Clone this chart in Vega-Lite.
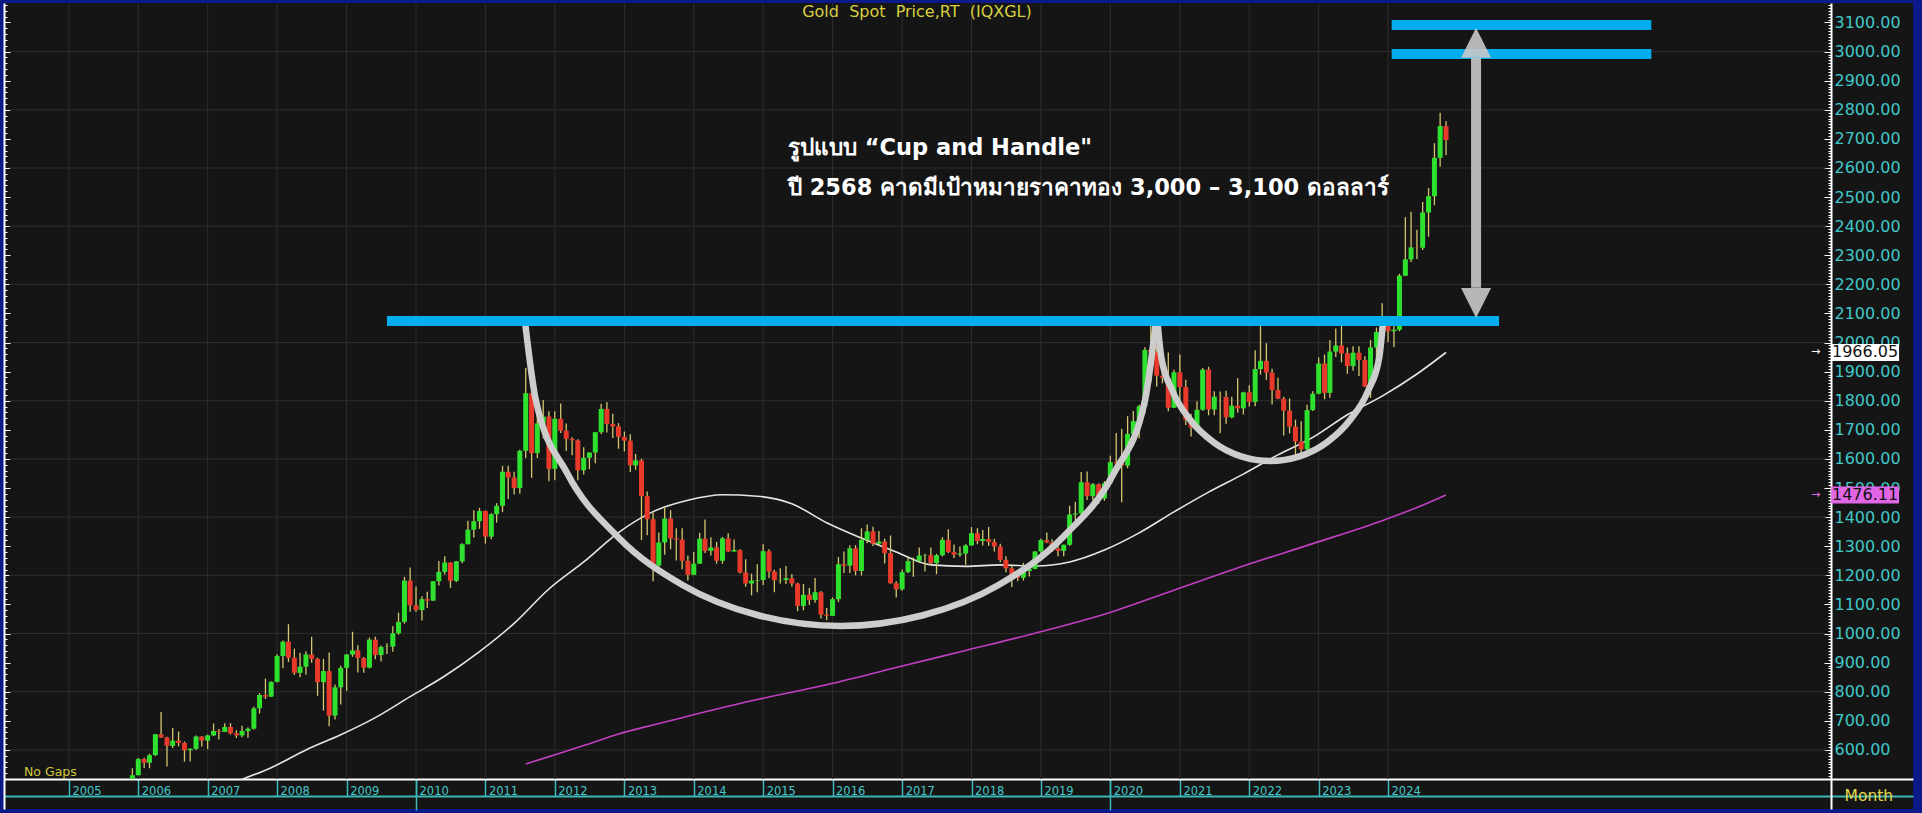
{
"$schema":"https://vega.github.io/schema/vega-lite/v6.json",
"width":1909,"height":806,
"autosize":{"type":"none"},
"padding":{"left":4,"top":3,"right":9,"bottom":4},
"background":"#0b1a88",
"config":{"view":{"fill":"#151515","stroke":null},"font":"DejaVu Sans"},
"resolve":{"axis":{"x":"independent","y":"independent"}},
"datasets":{
"candles":[
{"d":"2005-12-01","o":500,"h":537,"l":500,"c":513},
{"d":"2006-01-01","o":513,"h":572,"l":513,"c":569},{"d":"2006-02-01","o":569,"h":573,"l":538,"c":556},{"d":"2006-03-01","o":556,"h":587,"l":537,"c":582},{"d":"2006-04-01","o":582,"h":654,"l":580,"c":654},{"d":"2006-05-01","o":654,"h":730,"l":641,"c":643},{"d":"2006-06-01","o":643,"h":645,"l":543,"c":614},{"d":"2006-07-01","o":614,"h":675,"l":607,"c":632},{"d":"2006-08-01","o":632,"h":663,"l":612,"c":624},{"d":"2006-09-01","o":624,"h":629,"l":560,"c":599},{"d":"2006-10-01","o":599,"h":606,"l":560,"c":604},{"d":"2006-11-01","o":604,"h":650,"l":600,"c":646},{"d":"2006-12-01","o":646,"h":648,"l":612,"c":632},
{"d":"2007-01-01","o":632,"h":652,"l":603,"c":650},{"d":"2007-02-01","o":650,"h":691,"l":648,"c":665},{"d":"2007-03-01","o":665,"h":672,"l":636,"c":662},{"d":"2007-04-01","o":662,"h":692,"l":662,"c":679},{"d":"2007-05-01","o":679,"h":692,"l":653,"c":657},{"d":"2007-06-01","o":657,"h":668,"l":641,"c":650},{"d":"2007-07-01","o":650,"h":683,"l":644,"c":665},{"d":"2007-08-01","o":665,"h":677,"l":642,"c":673},{"d":"2007-09-01","o":673,"h":748,"l":670,"c":743},{"d":"2007-10-01","o":743,"h":795,"l":725,"c":789},{"d":"2007-11-01","o":789,"h":845,"l":775,"c":783},{"d":"2007-12-01","o":783,"h":836,"l":782,"c":834},
{"d":"2008-01-01","o":834,"h":929,"l":832,"c":923},{"d":"2008-02-01","o":923,"h":976,"l":881,"c":972},{"d":"2008-03-01","o":972,"h":1032,"l":902,"c":917},{"d":"2008-04-01","o":917,"h":948,"l":858,"c":865},{"d":"2008-05-01","o":865,"h":934,"l":850,"c":886},{"d":"2008-06-01","o":886,"h":939,"l":858,"c":928},{"d":"2008-07-01","o":928,"h":989,"l":900,"c":913},{"d":"2008-08-01","o":913,"h":917,"l":786,"c":833},{"d":"2008-09-01","o":833,"h":913,"l":735,"c":871},{"d":"2008-10-01","o":871,"h":935,"l":681,"c":718},{"d":"2008-11-01","o":718,"h":825,"l":705,"c":815},{"d":"2008-12-01","o":815,"h":889,"l":756,"c":882},
{"d":"2009-01-01","o":882,"h":929,"l":803,"c":928},{"d":"2009-02-01","o":928,"h":1006,"l":920,"c":942},{"d":"2009-03-01","o":942,"h":960,"l":866,"c":916},{"d":"2009-04-01","o":916,"h":919,"l":865,"c":883},{"d":"2009-05-01","o":883,"h":986,"l":880,"c":979},{"d":"2009-06-01","o":979,"h":989,"l":912,"c":926},{"d":"2009-07-01","o":926,"h":959,"l":904,"c":954},{"d":"2009-08-01","o":954,"h":967,"l":930,"c":955},{"d":"2009-09-01","o":955,"h":1025,"l":937,"c":1001},{"d":"2009-10-01","o":1001,"h":1072,"l":996,"c":1040},{"d":"2009-11-01","o":1040,"h":1195,"l":1034,"c":1182},{"d":"2009-12-01","o":1182,"h":1227,"l":1075,"c":1097},
{"d":"2010-01-01","o":1097,"h":1162,"l":1075,"c":1081},{"d":"2010-02-01","o":1081,"h":1128,"l":1045,"c":1118},{"d":"2010-03-01","o":1118,"h":1144,"l":1088,"c":1113},{"d":"2010-04-01","o":1113,"h":1180,"l":1112,"c":1180},{"d":"2010-05-01","o":1180,"h":1249,"l":1165,"c":1212},{"d":"2010-06-01","o":1212,"h":1266,"l":1203,"c":1244},{"d":"2010-07-01","o":1244,"h":1245,"l":1157,"c":1181},{"d":"2010-08-01","o":1181,"h":1249,"l":1177,"c":1248},{"d":"2010-09-01","o":1248,"h":1310,"l":1242,"c":1307},{"d":"2010-10-01","o":1307,"h":1388,"l":1307,"c":1357},{"d":"2010-11-01","o":1357,"h":1424,"l":1330,"c":1386},{"d":"2010-12-01","o":1386,"h":1432,"l":1360,"c":1421},
{"d":"2011-01-01","o":1421,"h":1423,"l":1309,"c":1333},{"d":"2011-02-01","o":1333,"h":1413,"l":1324,"c":1410},{"d":"2011-03-01","o":1410,"h":1448,"l":1381,"c":1439},{"d":"2011-04-01","o":1439,"h":1576,"l":1417,"c":1556},{"d":"2011-05-01","o":1556,"h":1577,"l":1462,"c":1536},{"d":"2011-06-01","o":1536,"h":1556,"l":1478,"c":1500},{"d":"2011-07-01","o":1500,"h":1632,"l":1480,"c":1628},{"d":"2011-08-01","o":1628,"h":1913,"l":1603,"c":1826},{"d":"2011-09-01","o":1826,"h":1921,"l":1535,"c":1620},{"d":"2011-10-01","o":1620,"h":1762,"l":1603,"c":1722},{"d":"2011-11-01","o":1722,"h":1803,"l":1670,"c":1746},{"d":"2011-12-01","o":1746,"h":1764,"l":1523,"c":1566},
{"d":"2012-01-01","o":1566,"h":1764,"l":1527,"c":1738},{"d":"2012-02-01","o":1738,"h":1791,"l":1689,"c":1697},{"d":"2012-03-01","o":1697,"h":1722,"l":1627,"c":1669},{"d":"2012-04-01","o":1669,"h":1675,"l":1613,"c":1664},{"d":"2012-05-01","o":1664,"h":1668,"l":1527,"c":1561},{"d":"2012-06-01","o":1561,"h":1640,"l":1547,"c":1604},{"d":"2012-07-01","o":1604,"h":1623,"l":1565,"c":1622},{"d":"2012-08-01","o":1622,"h":1692,"l":1585,"c":1692},{"d":"2012-09-01","o":1692,"h":1790,"l":1686,"c":1772},{"d":"2012-10-01","o":1772,"h":1796,"l":1691,"c":1720},{"d":"2012-11-01","o":1720,"h":1755,"l":1672,"c":1712},{"d":"2012-12-01","o":1712,"h":1723,"l":1635,"c":1676},
{"d":"2013-01-01","o":1676,"h":1694,"l":1626,"c":1663},{"d":"2013-02-01","o":1663,"h":1685,"l":1555,"c":1578},{"d":"2013-03-01","o":1578,"h":1617,"l":1563,"c":1595},{"d":"2013-04-01","o":1595,"h":1601,"l":1321,"c":1472},{"d":"2013-05-01","o":1472,"h":1488,"l":1338,"c":1393},{"d":"2013-06-01","o":1393,"h":1417,"l":1180,"c":1234},{"d":"2013-07-01","o":1234,"h":1347,"l":1208,"c":1313},{"d":"2013-08-01","o":1313,"h":1434,"l":1271,"c":1395},{"d":"2013-09-01","o":1395,"h":1424,"l":1290,"c":1327},{"d":"2013-10-01","o":1327,"h":1362,"l":1251,"c":1323},{"d":"2013-11-01","o":1323,"h":1362,"l":1221,"c":1250},{"d":"2013-12-01","o":1250,"h":1268,"l":1182,"c":1202},
{"d":"2014-01-01","o":1202,"h":1280,"l":1200,"c":1240},{"d":"2014-02-01","o":1240,"h":1346,"l":1240,"c":1326},{"d":"2014-03-01","o":1326,"h":1392,"l":1277,"c":1284},{"d":"2014-04-01","o":1284,"h":1331,"l":1268,"c":1296},{"d":"2014-05-01","o":1296,"h":1315,"l":1240,"c":1250},{"d":"2014-06-01","o":1250,"h":1332,"l":1240,"c":1327},{"d":"2014-07-01","o":1327,"h":1345,"l":1280,"c":1282},{"d":"2014-08-01","o":1282,"h":1323,"l":1281,"c":1287},{"d":"2014-09-01","o":1287,"h":1290,"l":1206,"c":1210},{"d":"2014-10-01","o":1210,"h":1255,"l":1161,"c":1172},{"d":"2014-11-01","o":1172,"h":1206,"l":1131,"c":1182},{"d":"2014-12-01","o":1182,"h":1238,"l":1142,"c":1184},
{"d":"2015-01-01","o":1184,"h":1307,"l":1167,"c":1283},{"d":"2015-02-01","o":1283,"h":1290,"l":1190,"c":1213},{"d":"2015-03-01","o":1213,"h":1219,"l":1142,"c":1183},{"d":"2015-04-01","o":1183,"h":1224,"l":1172,"c":1184},{"d":"2015-05-01","o":1184,"h":1232,"l":1170,"c":1190},{"d":"2015-06-01","o":1190,"h":1205,"l":1162,"c":1172},{"d":"2015-07-01","o":1172,"h":1175,"l":1077,"c":1095},{"d":"2015-08-01","o":1095,"h":1170,"l":1080,"c":1133},{"d":"2015-09-01","o":1133,"h":1157,"l":1098,"c":1115},{"d":"2015-10-01","o":1115,"h":1191,"l":1106,"c":1142},{"d":"2015-11-01","o":1142,"h":1146,"l":1052,"c":1065},{"d":"2015-12-01","o":1065,"h":1088,"l":1046,"c":1061},
{"d":"2016-01-01","o":1061,"h":1124,"l":1061,"c":1118},{"d":"2016-02-01","o":1118,"h":1263,"l":1108,"c":1238},{"d":"2016-03-01","o":1238,"h":1282,"l":1208,"c":1233},{"d":"2016-04-01","o":1233,"h":1303,"l":1208,"c":1293},{"d":"2016-05-01","o":1293,"h":1304,"l":1200,"c":1215},{"d":"2016-06-01","o":1215,"h":1362,"l":1200,"c":1322},{"d":"2016-07-01","o":1322,"h":1375,"l":1310,"c":1351},{"d":"2016-08-01","o":1351,"h":1367,"l":1301,"c":1309},{"d":"2016-09-01","o":1309,"h":1352,"l":1302,"c":1316},{"d":"2016-10-01","o":1316,"h":1326,"l":1241,"c":1276},{"d":"2016-11-01","o":1276,"h":1337,"l":1171,"c":1173},{"d":"2016-12-01","o":1173,"h":1180,"l":1124,"c":1152},
{"d":"2017-01-01","o":1152,"h":1220,"l":1147,"c":1211},{"d":"2017-02-01","o":1211,"h":1264,"l":1208,"c":1249},{"d":"2017-03-01","o":1249,"h":1261,"l":1195,"c":1250},{"d":"2017-04-01","o":1250,"h":1296,"l":1244,"c":1268},{"d":"2017-05-01","o":1268,"h":1274,"l":1214,"c":1269},{"d":"2017-06-01","o":1269,"h":1296,"l":1236,"c":1242},{"d":"2017-07-01","o":1242,"h":1274,"l":1204,"c":1269},{"d":"2017-08-01","o":1269,"h":1331,"l":1265,"c":1322},{"d":"2017-09-01","o":1322,"h":1358,"l":1277,"c":1280},{"d":"2017-10-01","o":1280,"h":1306,"l":1260,"c":1271},{"d":"2017-11-01","o":1271,"h":1299,"l":1264,"c":1275},{"d":"2017-12-01","o":1275,"h":1307,"l":1236,"c":1303},
{"d":"2018-01-01","o":1303,"h":1366,"l":1302,"c":1345},{"d":"2018-02-01","o":1345,"h":1362,"l":1307,"c":1318},{"d":"2018-03-01","o":1318,"h":1356,"l":1303,"c":1325},{"d":"2018-04-01","o":1325,"h":1366,"l":1301,"c":1315},{"d":"2018-05-01","o":1315,"h":1326,"l":1282,"c":1299},{"d":"2018-06-01","o":1299,"h":1309,"l":1245,"c":1253},{"d":"2018-07-01","o":1253,"h":1266,"l":1211,"c":1224},{"d":"2018-08-01","o":1224,"h":1236,"l":1160,"c":1201},{"d":"2018-09-01","o":1201,"h":1214,"l":1180,"c":1192},{"d":"2018-10-01","o":1192,"h":1243,"l":1182,"c":1215},{"d":"2018-11-01","o":1215,"h":1237,"l":1196,"c":1222},{"d":"2018-12-01","o":1222,"h":1284,"l":1221,"c":1282},
{"d":"2019-01-01","o":1282,"h":1326,"l":1276,"c":1321},{"d":"2019-02-01","o":1321,"h":1347,"l":1310,"c":1313},{"d":"2019-03-01","o":1313,"h":1324,"l":1280,"c":1292},{"d":"2019-04-01","o":1292,"h":1310,"l":1266,"c":1284},{"d":"2019-05-01","o":1284,"h":1306,"l":1266,"c":1305},{"d":"2019-06-01","o":1305,"h":1439,"l":1301,"c":1409},{"d":"2019-07-01","o":1409,"h":1453,"l":1381,"c":1413},{"d":"2019-08-01","o":1413,"h":1555,"l":1400,"c":1520},{"d":"2019-09-01","o":1520,"h":1557,"l":1459,"c":1472},{"d":"2019-10-01","o":1472,"h":1517,"l":1458,"c":1513},{"d":"2019-11-01","o":1513,"h":1516,"l":1445,"c":1464},{"d":"2019-12-01","o":1464,"h":1524,"l":1456,"c":1517},
{"d":"2020-01-01","o":1517,"h":1611,"l":1517,"c":1589},{"d":"2020-02-01","o":1589,"h":1689,"l":1563,"c":1585},{"d":"2020-03-01","o":1585,"h":1704,"l":1451,"c":1577},{"d":"2020-04-01","o":1577,"h":1747,"l":1568,"c":1686},{"d":"2020-05-01","o":1686,"h":1765,"l":1670,"c":1730},{"d":"2020-06-01","o":1730,"h":1786,"l":1671,"c":1781},{"d":"2020-07-01","o":1781,"h":1984,"l":1757,"c":1975},{"d":"2020-08-01","o":1975,"h":2075,"l":1863,"c":1968},{"d":"2020-09-01","o":1968,"h":1992,"l":1849,"c":1886},{"d":"2020-10-01","o":1886,"h":1933,"l":1860,"c":1879},{"d":"2020-11-01","o":1879,"h":1966,"l":1764,"c":1776},{"d":"2020-12-01","o":1776,"h":1907,"l":1775,"c":1898},
{"d":"2021-01-01","o":1898,"h":1959,"l":1802,"c":1847},{"d":"2021-02-01","o":1847,"h":1872,"l":1717,"c":1734},{"d":"2021-03-01","o":1734,"h":1755,"l":1677,"c":1708},{"d":"2021-04-01","o":1708,"h":1798,"l":1705,"c":1769},{"d":"2021-05-01","o":1769,"h":1913,"l":1766,"c":1907},{"d":"2021-06-01","o":1907,"h":1917,"l":1750,"c":1770},{"d":"2021-07-01","o":1770,"h":1833,"l":1750,"c":1814},{"d":"2021-08-01","o":1814,"h":1832,"l":1688,"c":1813},{"d":"2021-09-01","o":1813,"h":1834,"l":1721,"c":1743},{"d":"2021-10-01","o":1743,"h":1814,"l":1740,"c":1783},{"d":"2021-11-01","o":1783,"h":1877,"l":1759,"c":1774},{"d":"2021-12-01","o":1774,"h":1831,"l":1753,"c":1829},
{"d":"2022-01-01","o":1829,"h":1853,"l":1780,"c":1796},{"d":"2022-02-01","o":1796,"h":1974,"l":1781,"c":1909},{"d":"2022-03-01","o":1909,"h":2070,"l":1890,"c":1937},{"d":"2022-04-01","o":1937,"h":1998,"l":1872,"c":1897},{"d":"2022-05-01","o":1897,"h":1910,"l":1787,"c":1837},{"d":"2022-06-01","o":1837,"h":1879,"l":1805,"c":1807},{"d":"2022-07-01","o":1807,"h":1814,"l":1681,"c":1766},{"d":"2022-08-01","o":1766,"h":1808,"l":1688,"c":1711},{"d":"2022-09-01","o":1711,"h":1735,"l":1615,"c":1660},{"d":"2022-10-01","o":1660,"h":1730,"l":1617,"c":1633},{"d":"2022-11-01","o":1633,"h":1786,"l":1617,"c":1768},{"d":"2022-12-01","o":1768,"h":1833,"l":1765,"c":1824},
{"d":"2023-01-01","o":1824,"h":1949,"l":1822,"c":1928},{"d":"2023-02-01","o":1928,"h":1959,"l":1805,"c":1827},{"d":"2023-03-01","o":1827,"h":2009,"l":1810,"c":1969},{"d":"2023-04-01","o":1969,"h":2048,"l":1950,"c":1990},{"d":"2023-05-01","o":1990,"h":2079,"l":1932,"c":1963},{"d":"2023-06-01","o":1963,"h":1983,"l":1893,"c":1919},{"d":"2023-07-01","o":1919,"h":1987,"l":1903,"c":1965},{"d":"2023-08-01","o":1965,"h":1987,"l":1885,"c":1940},{"d":"2023-09-01","o":1940,"h":1953,"l":1847,"c":1849},{"d":"2023-10-01","o":1849,"h":2009,"l":1810,"c":1983},{"d":"2023-11-01","o":1983,"h":2052,"l":1931,"c":2036},{"d":"2023-12-01","o":2036,"h":2135,"l":2016,"c":2063},
{"d":"2024-01-01","o":2063,"h":2088,"l":2002,"c":2039},{"d":"2024-02-01","o":2039,"h":2065,"l":1985,"c":2044},{"d":"2024-03-01","o":2044,"h":2236,"l":2039,"c":2230},{"d":"2024-04-01","o":2230,"h":2431,"l":2228,"c":2286},{"d":"2024-05-01","o":2286,"h":2450,"l":2277,"c":2327},{"d":"2024-06-01","o":2327,"h":2388,"l":2287,"c":2326},{"d":"2024-07-01","o":2326,"h":2483,"l":2318,"c":2447},{"d":"2024-08-01","o":2447,"h":2531,"l":2364,"c":2503},{"d":"2024-09-01","o":2503,"h":2685,"l":2472,"c":2635},{"d":"2024-10-01","o":2635,"h":2790,"l":2604,"c":2744},{"d":"2024-11-01","o":2744,"h":2761,"l":2645,"c":2696}
],
"ma":[
{"s":"ma50","d":"2007-07-01","v":499},{"s":"ma50","d":"2007-12-01","v":539},{"s":"ma50","d":"2008-06-01","v":600},{"s":"ma50","d":"2008-12-01","v":652},{"s":"ma50","d":"2009-06-01","v":711},{"s":"ma50","d":"2009-12-01","v":783},{"s":"ma50","d":"2010-06-01","v":854},{"s":"ma50","d":"2010-12-01","v":938},{"s":"ma50","d":"2011-06-01","v":1035},{"s":"ma50","d":"2011-12-01","v":1153},{"s":"ma50","d":"2012-06-01","v":1246},{"s":"ma50","d":"2012-12-01","v":1347},{"s":"ma50","d":"2013-06-01","v":1419},{"s":"ma50","d":"2013-12-01","v":1458},{"s":"ma50","d":"2014-06-01","v":1477},{"s":"ma50","d":"2014-12-01","v":1472},{"s":"ma50","d":"2015-06-01","v":1446},{"s":"ma50","d":"2015-12-01","v":1381},{"s":"ma50","d":"2016-06-01","v":1328},{"s":"ma50","d":"2016-12-01","v":1280},{"s":"ma50","d":"2017-06-01","v":1236},{"s":"ma50","d":"2017-12-01","v":1231},{"s":"ma50","d":"2018-06-01","v":1236},{"s":"ma50","d":"2018-12-01","v":1232},{"s":"ma50","d":"2019-06-01","v":1246},{"s":"ma50","d":"2019-12-01","v":1287},{"s":"ma50","d":"2020-06-01","v":1346},{"s":"ma50","d":"2020-12-01","v":1418},{"s":"ma50","d":"2021-06-01","v":1486},{"s":"ma50","d":"2021-12-01","v":1548},{"s":"ma50","d":"2022-06-01","v":1614},{"s":"ma50","d":"2022-12-01","v":1674},{"s":"ma50","d":"2023-06-01","v":1752},{"s":"ma50","d":"2023-12-01","v":1816},{"s":"ma50","d":"2024-06-01","v":1892},{"s":"ma50","d":"2024-11-01","v":1966.05},
{"s":"ma200","d":"2011-08-01","v":552},{"s":"ma200","d":"2011-12-01","v":577},{"s":"ma200","d":"2012-06-01","v":615},{"s":"ma200","d":"2012-12-01","v":655},{"s":"ma200","d":"2013-06-01","v":686},{"s":"ma200","d":"2013-12-01","v":716},{"s":"ma200","d":"2014-12-01","v":773},{"s":"ma200","d":"2015-12-01","v":824},{"s":"ma200","d":"2016-12-01","v":883},{"s":"ma200","d":"2017-12-01","v":942},{"s":"ma200","d":"2018-12-01","v":1001},{"s":"ma200","d":"2019-12-01","v":1066},{"s":"ma200","d":"2020-12-01","v":1149},{"s":"ma200","d":"2021-12-01","v":1232},{"s":"ma200","d":"2022-12-01","v":1309},{"s":"ma200","d":"2023-12-01","v":1388},{"s":"ma200","d":"2024-06-01","v":1433},{"s":"ma200","d":"2024-11-01","v":1476.11}
],
"arcs":[
{"g":"cup","d":"2011-07-28","p":2074},{"g":"cup","d":"2011-09-23","p":1803},{"g":"cup","d":"2012-03-07","p":1550},{"g":"cup","d":"2012-11-27","p":1333},{"g":"cup","d":"2013-11-05","p":1166},{"g":"cup","d":"2014-12-10","p":1062},{"g":"cup","d":"2016-02-13","p":1026},{"g":"cup","d":"2017-04-16","p":1062},{"g":"cup","d":"2018-05-21","p":1166},{"g":"cup","d":"2019-04-29","p":1333},{"g":"cup","d":"2020-01-19","p":1550},{"g":"cup","d":"2020-07-02","p":1803},{"g":"cup","d":"2020-08-28","p":2074},
{"g":"handle","d":"2020-09-05","p":2074},{"g":"handle","d":"2020-09-25","p":1950},{"g":"handle","d":"2020-11-23","p":1834},{"g":"handle","d":"2021-02-25","p":1734},{"g":"handle","d":"2021-06-28","p":1657},{"g":"handle","d":"2021-11-19","p":1609},{"g":"handle","d":"2022-04-21","p":1593},{"g":"handle","d":"2022-09-22","p":1609},{"g":"handle","d":"2023-02-13","p":1657},{"g":"handle","d":"2023-06-15","p":1734},{"g":"handle","d":"2023-09-18","p":1834},{"g":"handle","d":"2023-11-16","p":1950},{"g":"handle","d":"2023-12-06","p":2074}
],
"levels":[
{"a":"2009-08-01","b":"2025-08-07","p":2074},
{"a":"2024-01-20","b":"2027-10-17","p":3091},
{"a":"2024-01-20","b":"2027-10-17","p":2992}
],
"hgrid":[{"p":600},{"p":800},{"p":1000},{"p":1200},{"p":1400},{"p":1600},{"p":1800},{"p":2000},{"p":2200},{"p":2400},{"p":2600},{"p":2800},{"p":3000}],
"vgrid":[{"d":"2005-01-01"},{"d":"2006-01-01"},{"d":"2007-01-01"},{"d":"2008-01-01"},{"d":"2009-01-01"},{"d":"2010-01-01"},{"d":"2011-01-01"},{"d":"2012-01-01"},{"d":"2013-01-01"},{"d":"2014-01-01"},{"d":"2015-01-01"},{"d":"2016-01-01"},{"d":"2017-01-01"},{"d":"2018-01-01"},{"d":"2019-01-01"},{"d":"2020-01-01"},{"d":"2021-01-01"},{"d":"2022-01-01"},{"d":"2023-01-01"},{"d":"2024-01-01"}],
"lastma":[{"s":"ma50","v":1966.05,"t":"1966.05"},{"s":"ma200","v":1476.11,"t":"1476.11"}],
"arrow":[{"d":"2025-04-08","p1":2188,"p2":2978}],
"heads":[{"d":"2025-04-08","p":3030,"dir":"up"},{"d":"2025-04-08","p":2136,"dir":"down"}]
},
"layer":[
{"data":{"name":"hgrid"},"mark":{"type":"rule","color":"#2e2e2e","strokeWidth":1},
 "encoding":{
  "x":{"datum":{"year":2004,"month":2,"date":21,"utc":true},"type":"temporal","scale":{"type":"utc","domain":[{"year":2004,"month":2,"date":21,"utc":true},{"year":2031,"month":6,"date":28,"utc":true}],"nice":false},"axis":null},
  "x2":{"datum":{"year":2030,"month":4,"date":25,"utc":true}},
  "y":{"field":"p","type":"quantitative","scale":{"domain":[397,3167],"zero":false,"nice":false},"axis":null}}},
{"data":{"name":"vgrid"},"mark":{"type":"rule","color":"#2e2e2e","strokeWidth":1},
 "encoding":{
  "x":{"field":"d","type":"temporal","scale":{"type":"utc","domain":[{"year":2004,"month":2,"date":21,"utc":true},{"year":2031,"month":6,"date":28,"utc":true}],"nice":false},"axis":null},
  "y":{"datum":500,"type":"quantitative","scale":{"domain":[397,3167],"zero":false,"nice":false},"axis":null},
  "y2":{"datum":3167}}},
{"data":{"name":"ma"},"mark":{"type":"line","strokeWidth":1.6,"interpolate":"monotone"},
 "encoding":{
  "x":{"field":"d","type":"temporal","scale":{"type":"utc","domain":[{"year":2004,"month":2,"date":21,"utc":true},{"year":2031,"month":6,"date":28,"utc":true}],"nice":false},"axis":null},
  "y":{"field":"v","type":"quantitative","scale":{"domain":[397,3167],"zero":false,"nice":false},"axis":null},
  "color":{"field":"s","type":"nominal","scale":{"domain":["ma50","ma200"],"range":["#e6e6e6","#c23fc2"]},"legend":null}}},
{"data":{"name":"candles"},"mark":{"type":"rule","color":"#d4c66e","strokeWidth":1.3},
 "encoding":{
  "x":{"field":"d","type":"temporal","scale":{"type":"utc","domain":[{"year":2004,"month":2,"date":21,"utc":true},{"year":2031,"month":6,"date":28,"utc":true}],"nice":false},
   "axis":{"orient":"top","offset":-793,"title":null,"grid":false,
    "values":[{"year":2005,"month":1,"date":1,"utc":true},{"year":2006,"month":1,"date":1,"utc":true},{"year":2007,"month":1,"date":1,"utc":true},{"year":2008,"month":1,"date":1,"utc":true},{"year":2009,"month":1,"date":1,"utc":true},{"year":2010,"month":1,"date":1,"utc":true},{"year":2011,"month":1,"date":1,"utc":true},{"year":2012,"month":1,"date":1,"utc":true},{"year":2013,"month":1,"date":1,"utc":true},{"year":2014,"month":1,"date":1,"utc":true},{"year":2015,"month":1,"date":1,"utc":true},{"year":2016,"month":1,"date":1,"utc":true},{"year":2017,"month":1,"date":1,"utc":true},{"year":2018,"month":1,"date":1,"utc":true},{"year":2019,"month":1,"date":1,"utc":true},{"year":2020,"month":1,"date":1,"utc":true},{"year":2021,"month":1,"date":1,"utc":true},{"year":2022,"month":1,"date":1,"utc":true},{"year":2023,"month":1,"date":1,"utc":true},{"year":2024,"month":1,"date":1,"utc":true}],
    "format":"%Y","formatType":"utc",
    "domainColor":"#3cb8b8","domainWidth":2,"tickColor":"#3cb8b8","tickSize":17,"tickWidth":1.5,
    "labelColor":"#44c8c8","labelFont":"DejaVu Sans","labelFontSize":11.5,"labelAlign":"left","labelBaseline":"alphabetic","labelPadding":-15,"labelOffset":3,"labelOverlap":false,"labelFlush":false,"labelBound":false}},
  "y":{"field":"l","type":"quantitative","scale":{"domain":[397,3167],"zero":false,"nice":false},
   "axis":{"orient":"left","offset":-1827,"title":null,"grid":false,"tickCount":300,
    "labelExpr":"(datum.value % 100 === 0 && datum.value >= 600 && datum.value <= 3100) ? format(datum.value, '.2f') : ''",
    "domainColor":"#ffffff","domainWidth":2,"tickColor":"#ffffff","tickWidth":1,
    "tickSize":{"condition":{"test":"datum.value % 100 === 0","value":7},"value":3},
    "tickOpacity":{"condition":{"test":"datum.value >= 500","value":1},"value":0},
    "labelColor":"#40c8c8","labelFont":"DejaVu Sans","labelFontSize":16,"labelAlign":"left","labelBaseline":"middle","labelPadding":-10,"labelOverlap":false,"labelFlush":false,"labelBound":false}},
  "y2":{"field":"h"}}},
{"data":{"name":"candles"},"mark":{"type":"bar","width":5},
 "encoding":{
  "x":{"field":"d","type":"temporal","scale":{"type":"utc","domain":[{"year":2004,"month":2,"date":21,"utc":true},{"year":2031,"month":6,"date":28,"utc":true}],"nice":false},
   "axis":{"orient":"bottom","offset":-30,"title":null,"grid":false,"labels":false,
    "values":[{"year":2010,"month":1,"date":1,"utc":true},{"year":2020,"month":1,"date":1,"utc":true}],
    "domainColor":"#ffffff","domainWidth":2,"tickColor":"#3cb8b8","tickSize":31,"tickWidth":1.5}},
  "y":{"field":"o","type":"quantitative","scale":{"domain":[397,3167],"zero":false,"nice":false},
   "axis":{"orient":"right","offset":-1909,"title":null,"grid":false,"labels":false,"tickCount":140,
    "domainColor":"#ffffff","domainWidth":2,"tickColor":"#ffffff","tickWidth":1,
    "tickSize":{"condition":{"test":"datum.value % 100 === 0","value":6},"value":3},
    "tickOpacity":{"condition":{"test":"datum.value >= 500","value":1},"value":0}}},
  "y2":{"field":"c"},
  "color":{"condition":{"test":"datum.c >= datum.o","value":"#2fe12f"},"value":"#e8392a"}}},
{"data":{"name":"arcs"},"mark":{"type":"line","strokeWidth":6.5,"interpolate":"monotone","color":"#cdcdcd"},
 "encoding":{
  "x":{"field":"d","type":"temporal","scale":{"type":"utc","domain":[{"year":2004,"month":2,"date":21,"utc":true},{"year":2031,"month":6,"date":28,"utc":true}],"nice":false},"axis":null},
  "y":{"field":"p","type":"quantitative","scale":{"domain":[397,3167],"zero":false,"nice":false},"axis":null},
  "detail":{"field":"g"}}},
{"data":{"name":"levels"},"mark":{"type":"rule","strokeWidth":10,"color":"#00adef"},
 "encoding":{
  "x":{"field":"a","type":"temporal","scale":{"type":"utc","domain":[{"year":2004,"month":2,"date":21,"utc":true},{"year":2031,"month":6,"date":28,"utc":true}],"nice":false},"axis":null},
  "x2":{"field":"b"},
  "y":{"field":"p","type":"quantitative","scale":{"domain":[397,3167],"zero":false,"nice":false},"axis":null}}},
{"data":{"name":"arrow"},"mark":{"type":"rule","strokeWidth":10,"color":"#c8c8c8","opacity":0.9},
 "encoding":{
  "x":{"field":"d","type":"temporal","scale":{"type":"utc","domain":[{"year":2004,"month":2,"date":21,"utc":true},{"year":2031,"month":6,"date":28,"utc":true}],"nice":false},"axis":null},
  "y":{"field":"p1","type":"quantitative","scale":{"domain":[397,3167],"zero":false,"nice":false},"axis":null},
  "y2":{"field":"p2"}}},
{"data":{"name":"heads"},"mark":{"type":"point","filled":true,"size":900,"color":"#c8c8c8","opacity":0.9,"strokeWidth":0},
 "encoding":{
  "x":{"field":"d","type":"temporal","scale":{"type":"utc","domain":[{"year":2004,"month":2,"date":21,"utc":true},{"year":2031,"month":6,"date":28,"utc":true}],"nice":false},"axis":null},
  "y":{"field":"p","type":"quantitative","scale":{"domain":[397,3167],"zero":false,"nice":false},"axis":null},
  "shape":{"field":"dir","type":"nominal","scale":{"domain":["up","down"],"range":["M-1,1L0,-1L1,1Z","M-1,-1L0,1L1,-1Z"]},"legend":null}}},
{"data":{"values":[{}]},"mark":{"type":"text","color":"#d8d040","fontSize":16,"font":"DejaVu Sans","align":"center","baseline":"middle"},
 "encoding":{
  "x":{"datum":{"year":2017,"month":3,"date":20,"utc":true},"type":"temporal","axis":null},
  "y":{"datum":3136,"type":"quantitative","axis":null},
  "text":{"value":"Gold\u00a0 Spot\u00a0 Price,RT\u00a0 (IQXGL)"}}},
{"data":{"values":[{}]},"mark":{"type":"text","color":"#ffffff","fontSize":22.5,"fontWeight":"bold","font":"DejaVu Sans","align":"left","baseline":"alphabetic"},
 "encoding":{
  "x":{"datum":{"year":2015,"month":5,"date":11,"utc":true},"type":"temporal","axis":null},
  "y":{"datum":2645,"type":"quantitative","axis":null},
  "text":{"value":"รูปแบบ “Cup and Handle\""}}},
{"data":{"values":[{}]},"mark":{"type":"text","color":"#ffffff","fontSize":22.5,"fontWeight":"bold","font":"DejaVu Sans","align":"left","baseline":"alphabetic"},
 "encoding":{
  "x":{"datum":{"year":2015,"month":5,"date":11,"utc":true},"type":"temporal","axis":null},
  "y":{"datum":2507,"type":"quantitative","axis":null},
  "text":{"value":"ปี 2568 คาดมีเป้าหมายราคาทอง 3,000 – 3,100 ดอลลาร์"}}},
{"data":{"values":[{}]},"mark":{"type":"text","color":"#d0c83c","fontSize":12.5,"font":"DejaVu Sans","align":"left","baseline":"alphabetic"},
 "encoding":{
  "x":{"datum":{"year":2004,"month":5,"date":10,"utc":true},"type":"temporal","axis":null},
  "y":{"datum":510.7,"type":"quantitative","axis":null},
  "text":{"value":"No Gaps"}}},
{"data":{"values":[{}]},"mark":{"type":"text","color":"#e0d84a","fontSize":15.5,"font":"DejaVu Sans","align":"center","baseline":"middle"},
 "encoding":{
  "x":{"datum":{"year":2030,"month":12,"date":4,"utc":true},"type":"temporal","axis":null},
  "y":{"datum":442,"type":"quantitative","axis":null},
  "text":{"value":"Month"}}},
{"data":{"name":"lastma"},"mark":{"type":"rule","strokeWidth":17},
 "encoding":{
  "x":{"datum":{"year":2030,"month":5,"date":20,"utc":true},"type":"temporal","axis":null},
  "x2":{"datum":{"year":2031,"month":5,"date":12,"utc":true}},
  "y":{"field":"v","type":"quantitative","axis":null},
  "color":{"condition":{"test":"datum.s === 'ma50'","value":"#ffffff"},"value":"#e066e6"}}},
{"data":{"name":"lastma"},"mark":{"type":"text","fontSize":16,"font":"DejaVu Sans","align":"center","baseline":"middle","color":"#111111"},
 "encoding":{
  "x":{"datum":{"year":2030,"month":11,"date":14,"utc":true},"type":"temporal","axis":null},
  "y":{"field":"v","type":"quantitative","axis":null},
  "text":{"field":"t","type":"nominal"}}},
{"data":{"name":"lastma"},"mark":{"type":"text","fontSize":11,"font":"DejaVu Sans","align":"center","baseline":"middle"},
 "encoding":{
  "x":{"datum":{"year":2030,"month":2,"date":27,"utc":true},"type":"temporal","axis":null},
  "y":{"field":"v","type":"quantitative","axis":null},
  "text":{"value":"→"},
  "color":{"condition":{"test":"datum.s === 'ma50'","value":"#ffffff"},"value":"#e066e6"}}}
]
}
